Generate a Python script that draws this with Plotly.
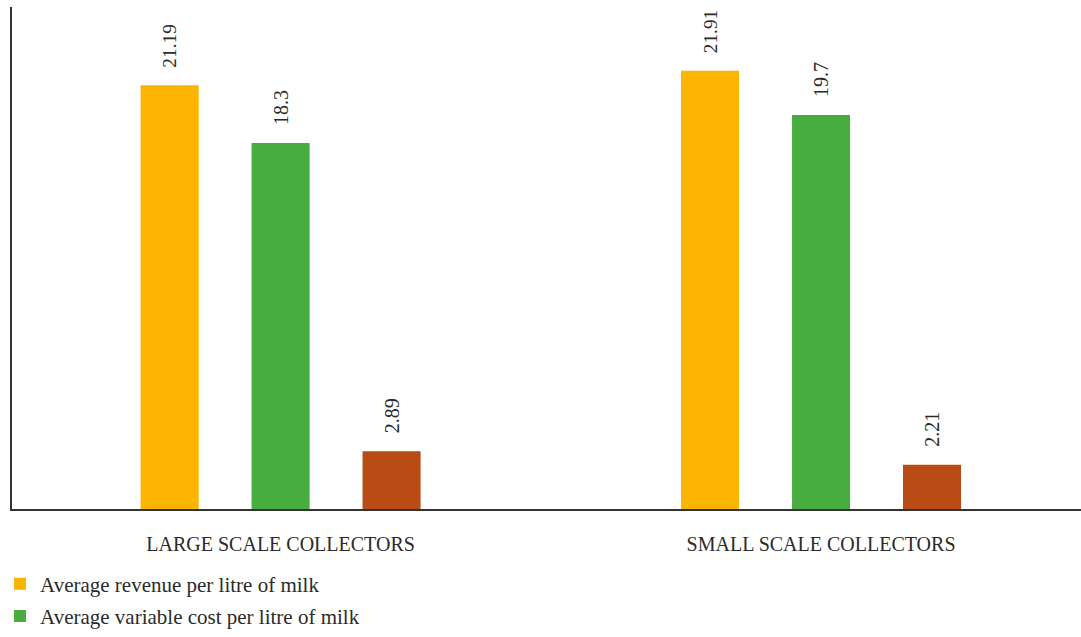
import plotly.graph_objects as go

# Milk collection economics by collector size
categories = ["LARGE SCALE COLLECTORS", "SMALL SCALE COLLECTORS"]
series_names = [
    "Average revenue per litre of milk",
    "Average variable cost per litre of milk",
    "Average margin per litre of milk",
]
revenue = [21.19, 21.91]
variable_cost = [18.3, 19.7]
margin = [2.89, 2.21]

colors = ["#FBB400", "#48AD41", "#B84C14"]
font_family = "Liberation Serif, DejaVu Serif, serif"
text_color = "#2b2b2b"

fig = go.Figure()
for name, values, color, in_legend in zip(
    series_names, [revenue, variable_cost, margin], colors, [True, True, False]
):
    fig.add_trace(
        go.Bar(
            name=name,
            x=categories,
            y=values,
            legendgroup=name,
            marker=dict(color=color, line=dict(width=0)),
            text=[f"\u00a0\u00a0\u00a0{v:g}" for v in values],
            textposition="outside",
            textangle=-90,
            textfont=dict(family=font_family, size=20, color=text_color),
            cliponaxis=False,
            showlegend=in_legend,
        )
    )

fig.update_layout(
    width=1081,
    height=637,
    margin=dict(l=12, r=0, t=7, b=128),
    paper_bgcolor="white",
    plot_bgcolor="white",
    barmode="group",
    bargap=0.384,
    bargroupgap=0.477,
    font=dict(family=font_family, size=20, color=text_color),
    legend=dict(
        orientation="v",
        traceorder="grouped",
        tracegroupgap=2,
        x=-0.0112,
        xanchor="left",
        y=-0.254,
        yanchor="bottom",
        yref="paper",
        font=dict(family=font_family, size=21, color=text_color),
        bgcolor="rgba(0,0,0,0)",
        itemclick=False,
    ),
    showlegend=True,
)

fig.update_xaxes(
    type="category",
    range=[-0.497, 1.481],
    showline=True,
    linecolor="#333333",
    linewidth=2,
    ticks="",
    showgrid=False,
    zeroline=False,
    ticklabelstandoff=16,
    tickfont=dict(family=font_family, size=20, color=text_color),
)
fig.update_yaxes(
    range=[0, 25.1],
    showline=True,
    linecolor="#333333",
    linewidth=2,
    showticklabels=False,
    ticks="",
    showgrid=False,
    zeroline=False,
)

fig.write_html("out.html")
